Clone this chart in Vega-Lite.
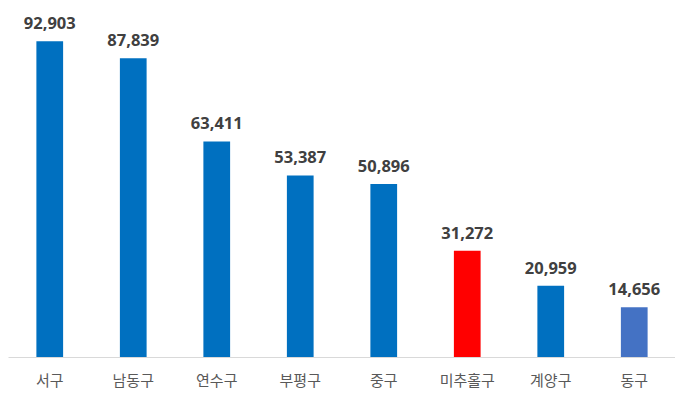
{
  "$schema": "https://vega.github.io/schema/vega-lite/v6.json",
  "width": 668,
  "height": 340,
  "autosize": "none",
  "padding": {"left": 8, "top": 17, "right": 0, "bottom": 40},
  "background": "white",
  "config": {"view": {"stroke": null}},
  "data": {
    "values": [
      {"district": "서구", "value": 92903, "color": "#0070C0"},
      {"district": "남동구", "value": 87839, "color": "#0070C0"},
      {"district": "연수구", "value": 63411, "color": "#0070C0"},
      {"district": "부평구", "value": 53387, "color": "#0070C0"},
      {"district": "중구", "value": 50896, "color": "#0070C0"},
      {"district": "미추홀구", "value": 31272, "color": "#FF0000"},
      {"district": "계양구", "value": 20959, "color": "#0070C0"},
      {"district": "동구", "value": 14656, "color": "#4472C4"}
    ]
  },
  "encoding": {
    "x": {
      "field": "district",
      "type": "nominal",
      "sort": null,
      "scale": {"paddingInner": 0.68, "paddingOuter": 0.34},
      "axis": {
        "title": null,
        "labelAngle": 0,
        "ticks": false,
        "domainColor": "#D9D9D9",
        "domainWidth": 1,
        "labelFont": "Noto Sans CJK KR",
        "labelFontSize": 15,
        "labelColor": "#595959",
        "labelPadding": 16
      }
    },
    "y": {
      "field": "value",
      "type": "quantitative",
      "scale": {"domain": [0, 100000]},
      "axis": null
    }
  },
  "layer": [
    {
      "mark": {"type": "bar"},
      "encoding": {"color": {"field": "color", "type": "nominal", "scale": null}}
    },
    {
      "mark": {"type": "text", "dy": -17, "font": "Noto Sans", "fontWeight": "bold", "fontSize": 16.5, "color": "#404040"},
      "encoding": {"text": {"field": "value", "type": "quantitative", "format": ","}}
    }
  ]
}
